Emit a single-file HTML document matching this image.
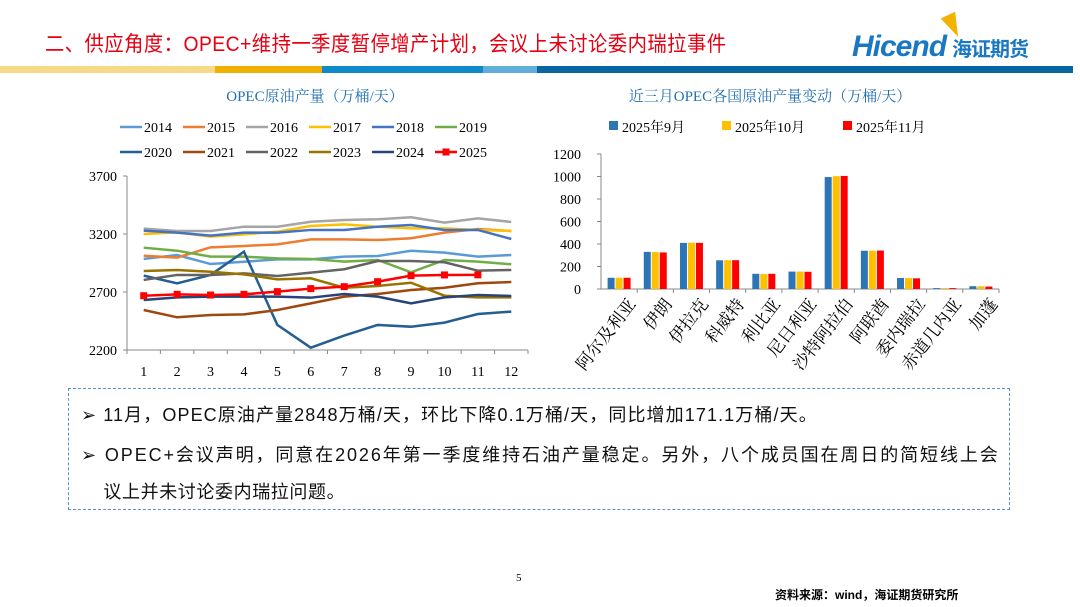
<!DOCTYPE html>
<html><head><meta charset="utf-8"><style>
body{margin:0;width:1080px;height:607px;background:#fff;position:relative;overflow:hidden;font-family:"Liberation Serif","Noto Serif CJK SC",serif}
.abs{position:absolute}
</style></head><body>
<div class="abs" style="left:45px;top:28px;font-size:21px;color:#e60012;font-family:'Liberation Sans','Noto Sans CJK SC',sans-serif;transform:scaleX(0.92);transform-origin:left;white-space:nowrap;letter-spacing:0.5px">二、供应角度：OPEC+维持一季度暂停增产计划，会议上未讨论委内瑞拉事件</div>
<div class="abs" style="left:852px;top:30px;font-family:'Liberation Sans',sans-serif;font-weight:bold;font-style:italic;font-size:30px;color:#1a78c2;letter-spacing:-1px">Hicend<span style="font-size:20px;font-style:normal;font-family:'Noto Sans CJK SC',sans-serif;margin-left:6px">海证期货</span></div>
<div class="abs" style="left:945px;top:14px;width:0;height:0;border-left:8px solid transparent;border-right:8px solid transparent;border-top:24px solid #f2b200;transform:rotate(-25deg)"></div>
<div class="abs" style="left:0;top:66px;width:1073px;height:7px;background:linear-gradient(90deg,#f8d98a 0 215px,#f0b000 215px 322px,#0e8ac8 322px 483px,#62aedb 483px 537px,#0a66a0 537px)"></div>
<svg class="abs" style="left:0;top:0" width="1080" height="607">
<text x="315" y="101" text-anchor="middle" font-size="15" fill="#1f6fb5" font-family="Liberation Serif,Noto Serif CJK SC,serif">OPEC原油产量（万桶/天）</text>
<text x="770" y="101" text-anchor="middle" font-size="15" fill="#1f6fb5" font-family="Liberation Serif,Noto Serif CJK SC,serif">近三月OPEC各国原油产量变动（万桶/天）</text>
<g id="L"></g><g id="B"></g>
</svg>
<div class="abs" style="left:68px;top:388px;width:942px;height:122px;border:1.5px dashed #5b8fd0;box-sizing:border-box;font-family:'Liberation Sans','Noto Sans CJK SC',sans-serif;font-size:18px;color:#111">
<div style="position:absolute;left:12px;top:12px;white-space:nowrap;letter-spacing:1.1px">➢ 11月，OPEC原油产量2848万桶/天，环比下降0.1万桶/天，同比增加171.1万桶/天。</div>
<div style="position:absolute;left:12px;top:48px;width:930px;line-height:37px;white-space:nowrap;letter-spacing:1.9px">➢ OPEC+会议声明，同意在2026年第一季度维持石油产量稳定。另外，八个成员国在周日的简短线上会<br><span style="letter-spacing:0.6px">&nbsp;&nbsp;&nbsp;&nbsp;议上并未讨论委内瑞拉问题。</span></div>
</div>
<div class="abs" style="left:516px;top:572px;font-size:11px">5</div>
<div class="abs" style="left:775px;top:586px;font-size:12px;font-weight:bold;font-family:'Liberation Sans','Noto Sans CJK SC',sans-serif">资料来源：wind，海证期货研究所</div>
<script>
const years=['2014','2015','2016','2017','2018','2019','2020','2021','2022','2023','2024','2025'];
const colors=['#5b9bd5','#ed7d31','#a5a5a5','#ffc000','#4472c4','#70ad47','#255e91','#9e480e','#636363','#997300','#264478','#ff0000'];
const months=[1,2,3,4,5,6,7,8,9,10,11,12];
const yTicks=[2200,2700,3200,3700];
const s2014=[2985,3019,2941,2961,2981,2981,3005,3010,3056,3039,3005,3019];
const s2015=[3013,2996,3085,3097,3111,3154,3154,3148,3163,3212,3243,3226];
const s2016=[3246,3226,3226,3263,3263,3306,3321,3327,3344,3298,3335,3304];
const s2017=[3200,3214,3177,3197,3220,3269,3283,3263,3249,3249,3235,3226];
const s2018=[3229,3212,3186,3212,3212,3235,3235,3263,3278,3235,3235,3157];
const s2019=[3082,3056,3005,3005,2990,2985,2962,2976,2870,2976,2962,2939];
const s2020=[2841,2775,2847,3048,2416,2220,2324,2416,2401,2436,2510,2531];
const s2021=[2545,2482,2502,2507,2545,2602,2660,2683,2717,2737,2775,2786];
const s2022=[2804,2847,2847,2861,2838,2867,2896,2967,2967,2956,2884,2890];
const s2023=[2881,2890,2875,2852,2809,2818,2737,2752,2780,2668,2654,2654];
const s2024=[2631,2654,2660,2660,2660,2651,2683,2660,2602,2654,2674,2666];
const s2025=[2668,2680,2674,2680,2703,2729,2746,2789,2841,2847,2848];
const allSeries=[s2014,s2015,s2016,s2017,s2018,s2019,s2020,s2021,s2022,s2023,s2024,s2025];
const countries=['阿尔及利亚','伊朗','伊拉克','科威特','利比亚','尼日利亚','沙特阿拉伯','阿联酋','委内瑞拉','赤道几内亚','加蓬'];
const barSeriesNames=['2025年9月','2025年10月','2025年11月'];
const barColors=['#2e75b6','#ffc000','#ff0000'];
const sep=[100,330,410,255,135,155,995,340,98,8,25];
const oct=[100,328,412,256,133,155,1003,340,97,8,24];
const nov=[100,325,410,256,135,153,1005,342,95,8,22];
const barTicks=[0,200,400,600,800,1000,1200];
const NS='http://www.w3.org/2000/svg';
function mk(p,t,a){const e=document.createElementNS(NS,t);for(const k in a)e.setAttribute(k,a[k]);p.appendChild(e);return e;}
const L=document.getElementById('L');
const x0=127,x1=528,yb=350,yt=176;
const xs=m=>x0+(m-0.5)*(x1-x0)/12;
const ys=v=>yb-(v-2200)/1500*(yb-yt);
let ax=mk(L,'path',{d:`M${x0} ${yt}V${yb}H${x1}`,stroke:'#888',fill:'none','stroke-width':1});

for(let i=0;i<=12;i++)mk(L,'line',{x1:x0+i*(x1-x0)/12,x2:x0+i*(x1-x0)/12,y1:yb,y2:yb+4,stroke:'#888'});
yTicks.forEach(v=>{mk(L,'line',{x1:x0-4,x2:x0,y1:ys(v),y2:ys(v),stroke:'#888'});
 const t=mk(L,'text',{x:x0-10,y:ys(v)+5,'text-anchor':'end','font-size':14});t.textContent=v;
 });
months.forEach(m=>{const t=mk(L,'text',{x:xs(m),y:yb+26,'text-anchor':'middle','font-size':14});t.textContent=m;
 });
allSeries.forEach((s,i)=>{const p=mk(L,'polyline',{points:s.map((v,j)=>xs(j+1)+','+ys(v)).join(' '),fill:'none',stroke:colors[i],'stroke-width':2.5});
 
 if(i==11)s.forEach((v,j)=>mk(L,'rect',{x:xs(j+1)-3.5,y:ys(v)-3.5,width:7,height:7,fill:colors[i]}));});
years.forEach((y,i)=>{const r=Math.floor(i/6),c=i%6;const lx=120+c*63,ly=127+r*25;
 const g=mk(L,'g',{});
 mk(g,'line',{x1:lx,x2:lx+22,y1:ly,y2:ly,stroke:colors[i],'stroke-width':2.5});
 if(i==11)mk(g,'rect',{x:lx+7.5,y:ly-3.5,width:7,height:7,fill:colors[i]});
 const t=mk(g,'text',{x:lx+24,y:ly+5,'font-size':14});t.textContent=y;});
const B=document.getElementById('B');
const bx0=601,bx1=999,by0=289,by1=154;
const bw=(bx1-bx0)/countries.length;
const bys=v=>by0-v/1200*(by0-by1);
let bax=mk(B,'path',{d:`M${bx0} ${by1}V${by0}H${bx1}`,stroke:'#888',fill:'none'});

barTicks.forEach(v=>{mk(B,'line',{x1:bx0-4,x2:bx0,y1:bys(v),y2:bys(v),stroke:'#888'});
 const t=mk(B,'text',{x:bx0-20,y:bys(v)+5,'text-anchor':'end','font-size':14});t.textContent=v;
 });
[sep,oct,nov].forEach((s,k)=>s.forEach((v,i)=>{const r=mk(B,'rect',{x:bx0+i*bw+bw/2-11.5+k*8,y:bys(v),width:7,height:by0-bys(v),fill:barColors[k]});
 }));
countries.forEach((c,i)=>{mk(B,'line',{x1:bx0+(i+1)*bw,x2:bx0+(i+1)*bw,y1:by0,y2:by0+4,stroke:'#888'});
 const cx=bx0+i*bw+bw/2+8,cy=by0+8;
 const t=mk(B,'text',{x:cx,y:cy,'text-anchor':'end','font-size':17,transform:`rotate(-52 ${cx} ${cy})`,'dominant-baseline':'hanging'});t.textContent=c;
 });
barSeriesNames.forEach((n,k)=>{const lx=[609,722,843][k];const g=mk(B,'g',{});
 
 mk(g,'rect',{x:lx,y:121,width:9,height:9,fill:barColors[k]});
 const t=mk(g,'text',{x:lx+13,y:132,'font-size':14});t.textContent=n;});
</script>
</body></html>
